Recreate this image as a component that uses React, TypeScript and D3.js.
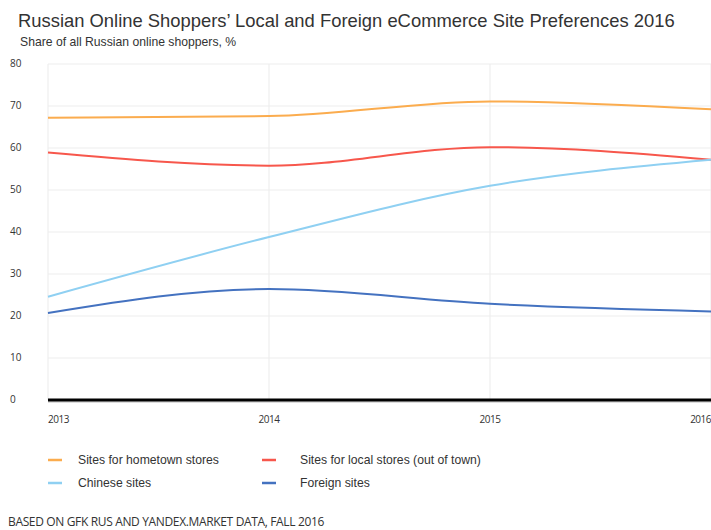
import * as d3 from "d3";

const years = [2013, 2014, 2015, 2016];
const yTicks = [0, 10, 20, 30, 40, 50, 60, 70, 80];

const hometown = [67.2, 67.6, 71.1, 69.2];
const localStores = [58.9, 55.8, 60.2, 57.2];
const chinese = [24.6, 38.8, 51.0, 57.2];
const foreign = [20.7, 26.4, 22.9, 21.1];

const seriesNames = [
  "Sites for hometown stores",
  "Sites for local stores (out of town)",
  "Chinese sites",
  "Foreign sites",
];
const seriesColors = ["#fbac4e", "#f7574c", "#8fd0f2", "#4472c0"];

const W = 711;
const H = 530;
const left = 48;
const right = 711;
const top = 64;
const bottom = 400;
const font = "'Liberation Sans', Arial, sans-serif";
const tickFont = "'Open Sans', 'DejaVu Sans', sans-serif";

export default function App() {
  const x = d3.scaleLinear().domain([2013, 2016]).range([left, right]);
  const y = d3.scaleLinear().domain([0, 80]).range([bottom, top]);

  const line = d3
    .line<number>()
    .x((_, i) => x(years[i]))
    .y((d) => y(d))
    .curve(d3.curveMonotoneX);

  const allSeries = [hometown, localStores, chinese, foreign];

  return (
    <svg
      width={W}
      height={H}
      style={{ position: "absolute", left: 0, top: 0, background: "#fff" }}
    >
      <text x={18} y={27} fontFamily={font} fontSize={18.4} fill="#333">
        Russian Online Shoppers’ Local and Foreign eCommerce Site Preferences 2016
      </text>
      <text x={20} y={46} fontFamily={font} fontSize={12.2} fill="#333">
        Share of all Russian online shoppers, %
      </text>

      {yTicks.map((t) => (
        <g key={t}>
          <line x1={left} x2={right} y1={y(t)} y2={y(t)} stroke="#eeeeee" strokeWidth={1.2} />
          <text
            x={10}
            y={y(t) + 3}
            fontFamily={tickFont}
            fontSize={10}
            fill="#333"
          >
            {t}
          </text>
        </g>
      ))}
      {years.map((yr) => (
        <line key={yr} x1={x(yr)} x2={x(yr)} y1={top} y2={bottom} stroke="#eeeeee" strokeWidth={1.2} />
      ))}

      {allSeries.map((s, i) => (
        <path
          key={i}
          d={line(s) || ""}
          fill="none"
          stroke={seriesColors[i]}
          strokeWidth={2}
        />
      ))}

      <line x1={left} x2={right} y1={bottom + 2} y2={bottom + 2} stroke="#bbb" strokeWidth={1} />
      <line x1={left} x2={right} y1={bottom} y2={bottom} stroke="#000" strokeWidth={3} />

      {years.map((yr, i) => (
        <text
          key={yr}
          x={x(yr)}
          y={423}
          fontFamily={tickFont}
          fontSize={10}
          fill="#333"
          textAnchor={i === 0 ? "start" : i === years.length - 1 ? "end" : "middle"}
          letterSpacing={-0.5}
        >
          {yr}
        </text>
      ))}

      {seriesNames.map((name, i) => {
        const col = i % 2;
        const row = Math.floor(i / 2);
        const mx = col === 0 ? 48 : 262;
        const tx = col === 0 ? 78 : 300;
        const my = 460 + row * 23;
        return (
          <g key={name}>
            <line x1={mx} x2={mx + 14} y1={my} y2={my} stroke={seriesColors[i]} strokeWidth={2.5} />
            <text x={tx} y={my + 4} fontFamily={font} fontSize={12.2} fill="#333">
              {name}
            </text>
          </g>
        );
      })}

      <text x={8} y={526} fontFamily={tickFont} fontSize={12} fill="#333" letterSpacing={-0.35}>
        BASED ON GFK RUS AND YANDEX.MARKET DATA, FALL 2016
      </text>
    </svg>
  );
}
